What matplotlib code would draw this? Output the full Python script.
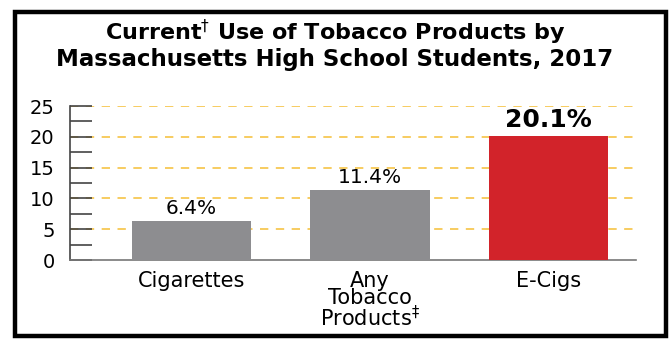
import matplotlib
matplotlib.use("Agg")
import matplotlib.pyplot as plt
from matplotlib.patches import Rectangle
from matplotlib.ticker import MultipleLocator

categories = ["Cigarettes", "Any\nTobacco\nProducts$^{\\ddagger}$", "E-Cigs"]
values = [6.4, 11.4, 20.1]
value_labels = ["6.4%", "11.4%", "20.1%"]
bar_colors = ["#8D8D90", "#8D8D90", "#D2232A"]
yticks = [0, 5, 10, 15, 20, 25]
title_lines = ["Current$^{\\dagger}$ Use of Tobacco Products by",
               "Massachusetts High School Students, 2017"]

plt.rcParams['font.family'] = ['DejaVu Sans']
plt.rcParams['mathtext.fontset'] = 'dejavusans'

fig = plt.figure(figsize=(6.70, 3.39), dpi=100)
fig.patch.set_facecolor("white")

# outer frame
fig.patches.append(Rectangle((15/670, 3/339), 651/670, 324/339, transform=fig.transFigure,
                             fill=False, edgecolor="black", linewidth=3.2))

ax = fig.add_axes([70/670, 79/339, 566/670, 154/339])
x = list(range(len(categories)))
ax.bar(x, values, width=0.67, color=bar_colors, zorder=3)
ax.set_xlim(-0.68, 2.49)
ax.set_ylim(0, 25)

for xi, v, lab in zip(x, values, value_labels):
    if lab == "20.1%":
        ax.annotate(lab, (xi, v), xytext=(0, 3), textcoords="offset points",
                    ha="center", va="bottom", fontsize=18, fontweight="bold")
    else:
        ax.annotate(lab, (xi, v), xytext=(0, 2), textcoords="offset points",
                    ha="center", va="bottom", fontsize=14.5)

for y in yticks[1:]:
    ax.axhline(y, color="#F6C445", linestyle=(0, (5, 4.5)), linewidth=1.2, zorder=1)

ax.set_yticks(yticks)
ax.yaxis.set_minor_locator(MultipleLocator(2.5))
ax.tick_params(axis="y", which="both", direction="in", length=16, width=1.2,
               color="#444444", labelsize=14, pad=11)
ax.set_xticks(x)
ax.set_xticklabels(categories, fontsize=15, linespacing=0.83)
ax.tick_params(axis="x", length=0, pad=8)

for s in ["top", "right"]:
    ax.spines[s].set_visible(False)
ax.spines["left"].set_color("#444444")
ax.spines["left"].set_linewidth(1.2)
ax.spines["bottom"].set_color("#777777")
ax.spines["bottom"].set_linewidth(1.2)

fig.text(335/670, 1 - 40/339, title_lines[0], ha="center", va="baseline",
         fontsize=16, fontweight="bold")
fig.text(335/670, 1 - 66/339, title_lines[1], ha="center", va="baseline",
         fontsize=16.5, fontweight="bold")

fig.savefig("out.png", dpi=100)
